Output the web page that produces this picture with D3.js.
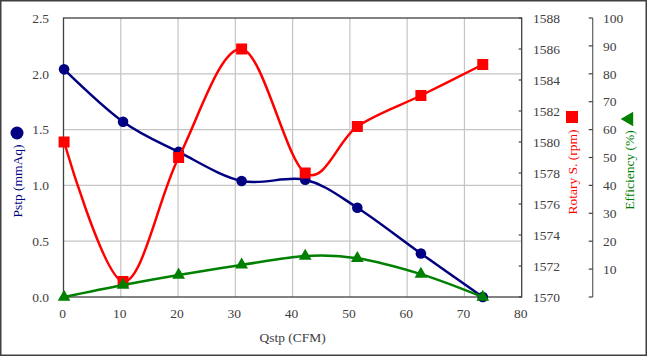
<!DOCTYPE html>
<html><head><meta charset="utf-8">
<script src="https://cdn.jsdelivr.net/npm/d3@7"></script>
<style>body{margin:0;background:#fff}svg{display:block}text{font-family:"Liberation Serif","Times New Roman",serif}</style>
</head><body><svg id="c" width="647" height="356"></svg>
<script>
const qstp = [0.1, 10.4, 20.1, 31.1, 42.2, 51.3, 62.4, 73.2];
const pstp = [2.04, 1.57, 1.30, 1.04, 1.05, 0.80, 0.39, 0.0];
const rotary = [1580, 1571, 1579, 1586, 1578, 1581, 1583, 1585];
const efficiency = [0, 4.3, 7.9, 11.5, 14.7, 13.9, 8.2, 0];
const xTicks = [0,10,20,30,40,50,60,70,80];
const pTicks = [0,0.5,1.0,1.5,2.0,2.5];
const rTicks = [1570,1572,1574,1576,1578,1580,1582,1584,1586,1588];
const eTicks = [0,10,20,30,40,50,60,70,80,90,100];

const svg = d3.select("#c");
const L=63.5, R=521.7, T=18, B=297;
const x = d3.scaleLinear().domain([0,80]).range([L,R]);
const yP = d3.scaleLinear().domain([0,2.5]).range([B,T]);
const yR = d3.scaleLinear().domain([1570,1588]).range([B,T]);
const yE = d3.scaleLinear().domain([0,100]).range([B,T]);
const txt = "#404040", grid = "#c4c4c4", fs = "13.5px";

svg.append("rect").attr("x",0.75).attr("y",0.75).attr("width",645.5).attr("height",354.5)
  .attr("fill","none").attr("stroke","#404040").attr("stroke-width",1.5);

// grid
svg.append("g").selectAll("line").data(pTicks.slice(1,-1)).join("line")
  .attr("x1",L).attr("x2",R).attr("y1",d=>yP(d)).attr("y2",d=>yP(d)).attr("stroke",grid).attr("stroke-width",1.2);
svg.append("g").selectAll("line").data(xTicks.slice(1,-1)).join("line")
  .attr("y1",T).attr("y2",B).attr("x1",d=>x(d)).attr("x2",d=>x(d)).attr("stroke",grid).attr("stroke-width",1.2);
svg.append("rect").attr("x",L).attr("y",T).attr("width",R-L).attr("height",B-T)
  .attr("fill","none").attr("stroke","#404040").attr("stroke-width",1.3);

// left labels
svg.append("g").selectAll("text").data(pTicks).join("text")
  .attr("x",49).attr("y",d=>yP(d)).attr("dy","0.35em").attr("text-anchor","end")
  .attr("fill",txt).style("font-size",fs).text(d=>d.toFixed(1));
// x labels
svg.append("g").selectAll("text").data(xTicks).join("text")
  .attr("x",d=>x(d)-1).attr("y",B+21).attr("text-anchor","middle")
  .attr("fill",txt).style("font-size",fs).text(d=>d);
// rotary axis
svg.append("g").selectAll("line").data(rTicks).join("line")
  .attr("x1",R-3).attr("x2",R).attr("y1",d=>yR(d)).attr("y2",d=>yR(d)).attr("stroke","#404040").attr("stroke-width",1.2);
svg.append("g").selectAll("text").data(rTicks).join("text")
  .attr("x",533).attr("y",d=>yR(d)).attr("dy","0.35em")
  .attr("fill",txt).style("font-size",fs).text(d=>d);
// efficiency axis
const EX=592.7;
svg.append("line").attr("x1",EX).attr("x2",EX).attr("y1",T).attr("y2",B).attr("stroke","#606060").attr("stroke-width",1.2);
svg.append("g").selectAll("line").data(eTicks).join("line")
  .attr("x1",EX-4).attr("x2",EX).attr("y1",d=>yE(d)).attr("y2",d=>yE(d)).attr("stroke","#404040").attr("stroke-width",1.2);
svg.append("g").selectAll("text").data(eTicks.filter(d=>d>0)).join("text")
  .attr("x",603).attr("y",d=>yE(d)).attr("dy","0.35em")
  .attr("fill",txt).style("font-size",fs).text(d=>d);

// titles
svg.append("text").attr("x",x(40)).attr("y",342).attr("text-anchor","middle").attr("fill",txt).style("font-size",fs).text("Qstp (CFM)");
svg.append("text").attr("transform","translate(22,181) rotate(-90)").attr("text-anchor","middle").attr("fill","#000080").style("font-size",fs).text("Pstp (mmAq)");
svg.append("circle").attr("cx",17).attr("cy",133).attr("r",6.5).attr("fill","#000080");
svg.append("text").attr("transform","translate(577,172) rotate(-90)").attr("text-anchor","middle").attr("fill","#ff0000").style("font-size",fs).text("Rotary S. (rpm)");
svg.append("rect").attr("x",566).attr("y",111).attr("width",12).attr("height",12).attr("fill","#ff0000");
svg.append("text").attr("transform","translate(634,170) rotate(-90)").attr("text-anchor","middle").attr("fill","#008000").style("font-size",fs).text("Efficiency (%)");
svg.append("path").attr("d",d3.symbol(d3.symbolTriangle,90)()).attr("transform","translate(629,119) rotate(-90)").attr("fill","#008000");

const curve = d3.curveCardinal.tension(0);
function series(vals, ys, color, marker){
  const pts = qstp.map((q,i)=>[x(q), ys(vals[i])]);
  svg.append("path").attr("d",d3.line().curve(curve)(pts)).attr("fill","none").attr("stroke",color).attr("stroke-width",2.5);
  const g = svg.append("g").attr("fill",color);
  pts.forEach(p=>{
    if(marker==="c") g.append("circle").attr("cx",p[0]).attr("cy",p[1]).attr("r",5.3);
    else if(marker==="s") g.append("rect").attr("x",p[0]-5.5).attr("y",p[1]-5.5).attr("width",11).attr("height",11);
    else g.append("path").attr("d",d3.symbol(d3.symbolTriangle,70)()).attr("transform",`translate(${p[0]},${p[1]})`);
  });
}
series(pstp, yP, "#000080", "c");
series(rotary, yR, "#ff0000", "s");
series(efficiency, yE, "#008000", "t");
</script></body></html>
